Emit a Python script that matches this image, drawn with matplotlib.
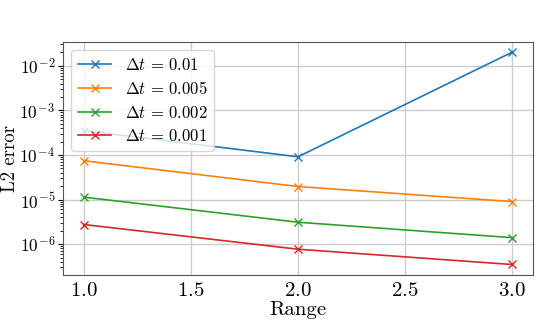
import matplotlib
matplotlib.use("Agg")
import matplotlib.pyplot as plt
import numpy as np
from matplotlib.ticker import FuncFormatter

plt.rcParams['font.family'] = 'serif'
plt.rcParams['font.serif'] = ['cmr10']
plt.rcParams['mathtext.fontset'] = 'cm'
plt.rcParams['axes.formatter.use_mathtext'] = True
plt.rcParams['axes.unicode_minus'] = False

ranges = [1.0, 2.0, 3.0]
labels = [r'$\Delta t\,=\,0.01$', r'$\Delta t\,=\,0.005$', r'$\Delta t\,=\,0.002$', r'$\Delta t\,=\,0.001$']
err_001 = [3.5e-4, 9.1e-5, 2.0e-2]
err_0005 = [7.4e-5, 1.96e-5, 9.0e-6]
err_0002 = [1.13e-5, 3.1e-6, 1.4e-6]
err_0001 = [2.75e-6, 7.7e-7, 3.5e-7]


def pow10(v, pos):
    e = int(round(np.log10(v)))
    if e < 0:
        return r'$10^{\!-\!%d}$' % -e
    return r'$10^{%d}$' % e


fig, ax = plt.subplots(figsize=(5.38, 3.21), dpi=100)

for errs, lab in zip([err_001, err_0005, err_0002, err_0001], labels):
    ax.plot(ranges, errs, 'x-', label=lab, lw=1.2, ms=6)

ax.set_yscale('log')
ax.yaxis.set_major_formatter(FuncFormatter(pow10))
ax.set_xlabel('Range', fontsize=15, labelpad=1)
ax.set_ylabel('L2 error', fontsize=13.5)
ax.yaxis.set_label_coords(-0.093, 0.5)
ax.tick_params(axis='x', labelsize=15, length=0, pad=5)
ax.tick_params(axis='y', labelsize=12.5, pad=2)
ax.grid(True, color='#cccccc', lw=1)
for s in ax.spines.values():
    s.set_color('#555555')
ax.legend(loc='upper left', fontsize=12, handlelength=2.0, labelspacing=0.45)

plt.subplots_adjust(left=0.117, right=0.991, top=0.87, bottom=0.143)
plt.savefig("out.png")
